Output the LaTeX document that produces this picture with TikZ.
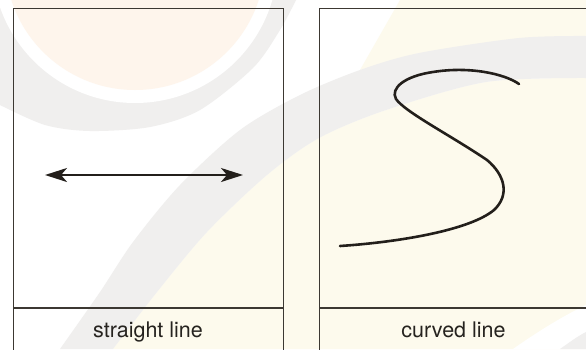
\documentclass[tikz,border=0pt]{standalone}
\usepackage{fontspec}
\setmainfont{TeX Gyre Heros}
\usetikzlibrary{arrows.meta}
\definecolor{wmgrey}{RGB}{240,239,238}
\definecolor{wmorange}{RGB}{254,245,236}
\definecolor{wmyellow}{RGB}{253,250,237}
\definecolor{boxline}{RGB}{60,56,50}
\definecolor{ink}{RGB}{35,31,27}
\definecolor{labelink}{RGB}{38,35,31}
\tikzset{
  panel/.style={draw=boxline, line width=1.2pt, inner sep=0pt, anchor=north west},
  divider/.style={draw=boxline, line width=1.2pt},
  caption/.style={font=\fontsize{21.5}{26}\selectfont, text=labelink, anchor=base, inner sep=0pt},
  arrowline/.style={draw=ink, line width=2.3pt, {Stealth[length=22pt,width=14pt,inset=6pt]}-{Stealth[length=22pt,width=14pt,inset=6pt]}},
  curveline/.style={draw=ink, line width=2.6pt, line cap=round}
}
\begin{document}
\begin{tikzpicture}[x=1pt,y=-1pt]
\useasboundingbox (0,0) rectangle (586,349);
% faint background watermark
\begin{scope}
\clip (0,0) rectangle (586,349);
\fill[white] (0,0) rectangle (586,349);
\fill[wmyellow] plot[smooth] coordinates {(113,349)(157,292)(207,232)(267,175)(319,138)(386,110)(486,82)(586,78)} -- (586,349) -- cycle;
\fill[wmyellow] (400,0) -- (586,0) -- (586,40) -- (419,53) -- (360,70) -- cycle;
\fill[wmgrey] plot[smooth] coordinates {(60,349)(100,292)(133,242)(180,185)(240,130)(300,95)(360,70)(419,53)(519,38)(586,36)} -- plot[smooth] coordinates {(586,78)(486,82)(386,110)(319,138)(267,175)(207,232)(157,292)(113,349)} -- cycle;
\fill[wmgrey] (0,0) -- plot[smooth] coordinates {(0,105)(45,125)(90,131)(150,127)(200,110)(253,68)(280,30)(296,0)} -- cycle;
\fill[white] (135,-40) circle (143);
\fill[wmorange] (135,-40) circle (130);
\fill[white] (513,349) .. controls (540,330) and (565,315) .. (586,305) -- (586,349) -- cycle;
\fill[wmgrey] (560,349) .. controls (570,342) and (578,336) .. (586,332) -- (586,349) -- cycle;
\end{scope}
% panels
\node[panel, minimum width=270pt, minimum height=360pt] (lp) at (13,7.5) {};
\node[panel, minimum width=270pt, minimum height=360pt] (rp) at (319,7.5) {};
\coordinate (ld1) at (13,308);
\coordinate (ld2) at (283,308);
\coordinate (rd1) at (319,308);
\coordinate (rd2) at (589,308);
\draw[divider] (ld1) -- (ld2);
\draw[divider] (rd1) -- (rd2);
% captions
\node[caption] (lcap) at (148,337.5) {straight line};
\node[caption] (rcap) at (453.5,337.5) {curved line};
% straight line with arrows
\coordinate (a1) at (45,175);
\coordinate (a2) at (243,175);
\draw[arrowline] (a1) -- (a2);
% curved line
\draw[curveline] (340,246) .. controls (400,242) and (470,230) .. (494,210)
  .. controls (510,195) and (505,175) .. (487,160)
  .. controls (450,135) and (405,112) .. (396,99)
  .. controls (390,88) and (405,76) .. (433,72)
  .. controls (470,66) and (505,74) .. (519,84);
\end{tikzpicture}
\end{document}
